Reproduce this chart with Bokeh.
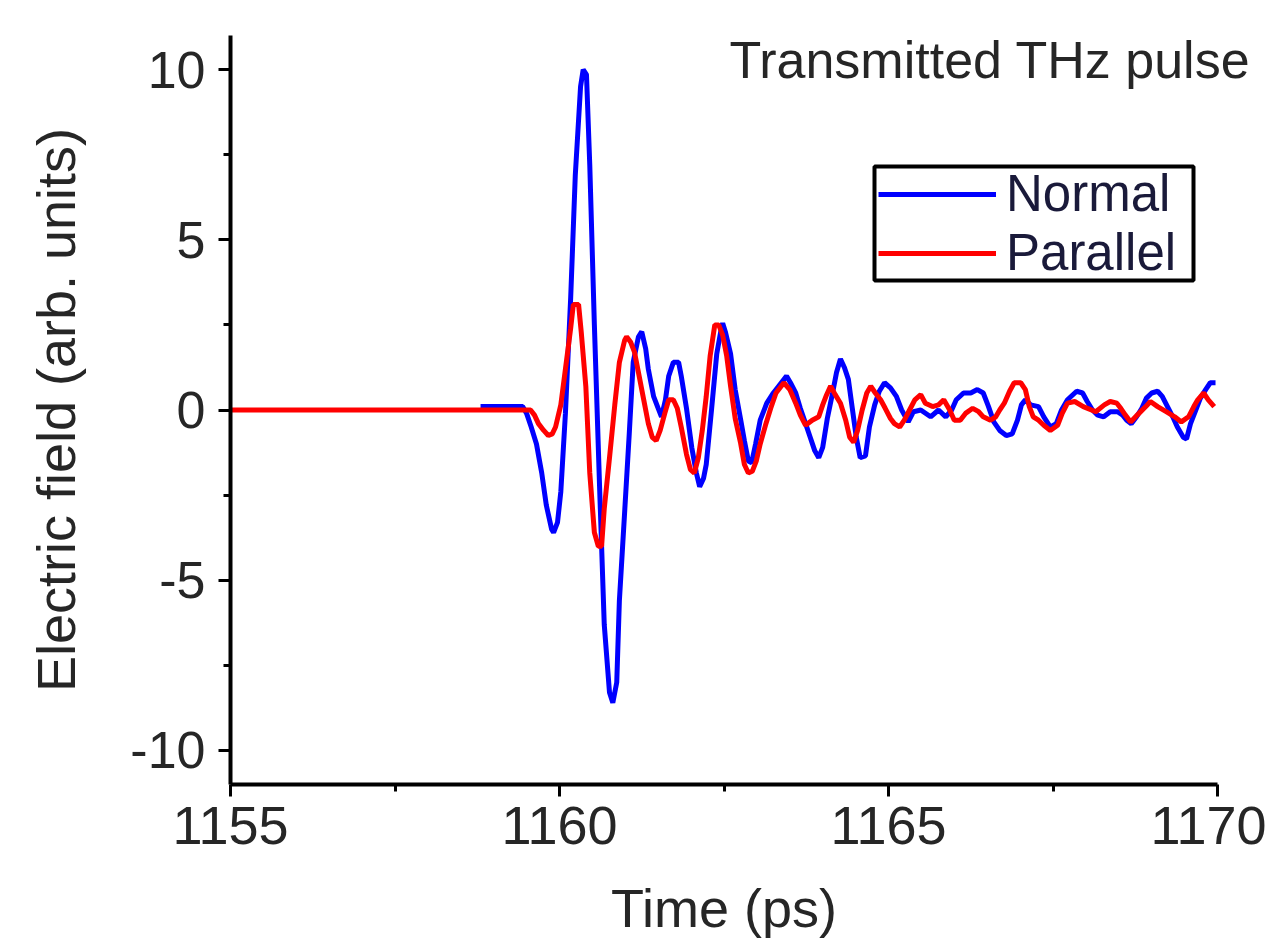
from bokeh.plotting import figure
from bokeh.models import Range1d, FixedTicker, Legend, LegendItem, BoxAnnotation
from bokeh.embed import file_html
from bokeh.resources import INLINE

# ---------------- data ----------------
time_normal = [
    1158.80, 1159.44, 1159.50, 1159.57, 1159.65, 1159.73, 1159.80, 1159.88, 1159.91, 1159.97,
    1160.02, 1160.09, 1160.17, 1160.24, 1160.32, 1160.36, 1160.41, 1160.46, 1160.53, 1160.61,
    1160.68, 1160.76, 1160.81, 1160.87, 1160.91, 1160.99, 1161.06, 1161.12, 1161.20, 1161.25,
    1161.31, 1161.35, 1161.43, 1161.50, 1161.55, 1161.61, 1161.66, 1161.73, 1161.81, 1161.85,
    1161.93, 1162.01, 1162.08, 1162.13, 1162.19, 1162.23, 1162.31, 1162.39, 1162.45, 1162.48,
    1162.52, 1162.60, 1162.67, 1162.75, 1162.81, 1162.87, 1162.92, 1162.98, 1163.05, 1163.15,
    1163.25, 1163.33, 1163.45, 1163.51, 1163.59, 1163.66, 1163.74, 1163.81, 1163.88, 1163.94,
    1164.00, 1164.07, 1164.15, 1164.21, 1164.27, 1164.33, 1164.39, 1164.45, 1164.51, 1164.57,
    1164.65, 1164.71, 1164.79, 1164.86, 1164.94, 1165.03, 1165.12, 1165.20, 1165.30, 1165.38,
    1165.49, 1165.64, 1165.76, 1165.87, 1165.96, 1166.03, 1166.14, 1166.25, 1166.35, 1166.44,
    1166.52, 1166.60, 1166.69, 1166.79, 1166.88, 1166.96, 1167.02, 1167.08, 1167.16, 1167.28,
    1167.36, 1167.46, 1167.55, 1167.63, 1167.72, 1167.86, 1167.95, 1168.02, 1168.10, 1168.18,
    1168.27, 1168.37, 1168.48, 1168.56, 1168.62, 1168.69, 1168.77, 1168.85, 1168.92, 1169.00,
    1169.09, 1169.16, 1169.24, 1169.32, 1169.39, 1169.48, 1169.53, 1169.59, 1169.67, 1169.74,
    1169.82, 1169.89, 1169.97,
]
field_normal = [
    0.1, 0.1, -0.1, -0.5, -1.0, -1.85, -2.8, -3.5, -3.6, -3.3,
    -2.4, -0.1, 3.3, 6.9, 9.5, 10.0, 9.85, 7.2, 2.5, -2.3,
    -6.3, -8.3, -8.6, -8.0, -5.6, -3.0, -0.7, 1.4, 2.15, 2.3,
    1.8, 1.2, 0.4, 0.05, -0.2, 0.3, 1.0, 1.4, 1.4, 1.0,
    0.05, -1.1, -1.85, -2.25, -2.0, -1.6, 0.0, 1.65, 2.3, 2.55,
    2.3, 1.65, 0.6, -0.25, -0.9, -1.5, -1.55, -1.0, -0.3, 0.2,
    0.5, 0.7, 1.0, 0.8, 0.5, 0.05, -0.4, -0.8, -1.2, -1.4,
    -1.1, -0.25, 0.5, 1.1, 1.5, 1.25, 0.9, 0.05, -0.8, -1.4,
    -1.35, -0.5, 0.15, 0.55, 0.8, 0.65, 0.4, 0.0, -0.35, -0.05,
    0.0, -0.2, 0.0, -0.2, 0.0, 0.3, 0.5, 0.5, 0.6, 0.5,
    0.1, -0.35, -0.6, -0.75, -0.7, -0.3, 0.15, 0.3, 0.15, 0.1,
    -0.2, -0.5, -0.4, 0.0, 0.3, 0.55, 0.5, 0.25, 0.0, -0.15,
    -0.2, -0.05, -0.05, -0.15, -0.3, -0.4, -0.2, 0.05, 0.35, 0.5,
    0.55, 0.4, 0.1, -0.2, -0.5, -0.8, -0.85, -0.4, 0.0, 0.35,
    0.6, 0.8, 0.8,
]

time_parallel = [
    1155.00, 1159.56, 1159.62, 1159.68, 1159.76, 1159.83, 1159.89, 1159.94, 1160.02, 1160.09,
    1160.17, 1160.21, 1160.29, 1160.33, 1160.40, 1160.46, 1160.53, 1160.59, 1160.64, 1160.68,
    1160.76, 1160.84, 1160.91, 1160.99, 1161.02, 1161.08, 1161.14, 1161.20, 1161.28, 1161.35,
    1161.41, 1161.47, 1161.53, 1161.60, 1161.66, 1161.73, 1161.79, 1161.85, 1161.93, 1161.99,
    1162.05, 1162.11, 1162.17, 1162.23, 1162.29, 1162.36, 1162.42, 1162.48, 1162.54, 1162.60,
    1162.67, 1162.75, 1162.81, 1162.87, 1162.93, 1162.99, 1163.05, 1163.13, 1163.21, 1163.29,
    1163.41, 1163.50, 1163.59, 1163.66, 1163.74, 1163.84, 1163.94, 1164.00, 1164.06, 1164.12,
    1164.19, 1164.27, 1164.35, 1164.41, 1164.47, 1164.53, 1164.60, 1164.67, 1164.73, 1164.80,
    1164.88, 1164.95, 1165.03, 1165.09, 1165.17, 1165.24, 1165.32, 1165.40, 1165.49, 1165.56,
    1165.67, 1165.76, 1165.84, 1165.93, 1166.00, 1166.09, 1166.17, 1166.28, 1166.37, 1166.44,
    1166.55, 1166.63, 1166.69, 1166.76, 1166.84, 1166.91, 1167.01, 1167.08, 1167.14, 1167.20,
    1167.28, 1167.36, 1167.46, 1167.57, 1167.64, 1167.72, 1167.83, 1167.96, 1168.15, 1168.28,
    1168.37, 1168.47, 1168.53, 1168.60, 1168.68, 1168.78, 1168.91, 1168.98, 1169.09, 1169.22,
    1169.35, 1169.45, 1169.56, 1169.64, 1169.70, 1169.79, 1169.86, 1169.95,
]
field_parallel = [
    0.0, 0.0, -0.15, -0.4, -0.6, -0.75, -0.7, -0.5, 0.15, 1.2,
    2.4, 3.1, 3.1, 2.3, 0.7, -1.85, -3.6, -4.0, -4.0, -2.9,
    -1.4, 0.15, 1.4, 2.05, 2.15, 2.0, 1.7, 1.1, 0.3, -0.4,
    -0.8, -0.9, -0.6, -0.1, 0.3, 0.3, 0.05, -0.5, -1.3, -1.75,
    -1.85, -1.4, -0.6, 0.4, 1.6, 2.5, 2.5, 2.2, 1.6, 0.7,
    -0.25, -0.95, -1.6, -1.85, -1.8, -1.5, -1.0, -0.45, 0.05, 0.5,
    0.8, 0.6, 0.2, -0.15, -0.45, -0.3, -0.2, 0.15, 0.45, 0.7,
    0.45, 0.2, -0.3, -0.8, -0.95, -0.6, 0.0, 0.5, 0.7, 0.5,
    0.3, 0.05, -0.25, -0.4, -0.5, -0.3, 0.0, 0.3, 0.45, 0.2,
    0.1, 0.15, 0.3, 0.0, -0.3, -0.3, -0.1, 0.05, -0.05, -0.2,
    -0.3, -0.2, 0.0, 0.2, 0.55, 0.8, 0.8, 0.6, 0.1, -0.2,
    -0.3, -0.45, -0.6, -0.45, -0.1, 0.2, 0.25, 0.1, -0.05, 0.15,
    0.25, 0.2, 0.05, -0.15, -0.35, -0.15, 0.1, 0.25, 0.1, -0.05,
    -0.2, -0.35, -0.2, 0.1, 0.3, 0.5, 0.3, 0.1,
]

series_names = ["Normal", "Parallel"]
x_ticks = [1155, 1160, 1165, 1170]
y_ticks = [-10, -5, 0, 5, 10]
y_tick_labels = {-10: "-10", -5: "-5", 0: "0", 5: "5", 10: "10"}
heading = "Transmitted THz pulse"

# ---------------- styling ----------------
FONT = "Liberation Sans"
TXT = "#262626"

p = figure(
    width=1266, height=940,
    x_range=Range1d(1155, 1170), y_range=Range1d(-11, 11),
    output_backend="svg", toolbar_location=None,
    min_border_left=230, min_border_right=49,
    min_border_top=35, min_border_bottom=150,
)
p.outline_line_color = None
p.xgrid.visible = False
p.ygrid.visible = False
p.background_fill_color = "white"
p.border_fill_color = "white"

r_normal = p.line(time_normal, field_normal, line_color="#0000ff", line_width=5)
r_parallel = p.line(time_parallel, field_parallel, line_color="#ff0000", line_width=5)

for ax in (p.xaxis[0], p.yaxis[0]):
    ax.axis_line_width = 4
    ax.axis_line_color = "black"
    ax.major_tick_line_width = 3
    ax.minor_tick_line_width = 3
    ax.major_tick_line_color = "black"
    ax.minor_tick_line_color = "black"
    ax.major_tick_in = 0
    ax.major_tick_out = 12
    ax.minor_tick_in = 0
    ax.minor_tick_out = 7
    ax.major_label_text_font = FONT
    ax.major_label_text_color = TXT
    ax.axis_label_text_font = FONT
    ax.axis_label_text_font_size = "54px"
    ax.axis_label_text_font_style = "normal"
    ax.axis_label_text_color = TXT

p.xaxis.major_label_text_font_size = "54px"
p.yaxis.major_label_text_font_size = "52px"
p.xaxis.ticker = FixedTicker(ticks=x_ticks, minor_ticks=[1157.5, 1162.5, 1167.5])
p.yaxis.ticker = FixedTicker(ticks=y_ticks, minor_ticks=[-7.5, -2.5, 2.5, 7.5])
p.yaxis.major_label_overrides = y_tick_labels
p.xaxis.axis_label = "Time (ps)"
p.yaxis.axis_label = "Electric field (arb. units)"
p.xaxis.major_label_standoff = 10
p.yaxis.major_label_standoff = 13
p.xaxis.axis_label_standoff = 31
p.yaxis.axis_label_standoff = 41

# legend frame (screen units relative to the plot frame)
legend_box = BoxAnnotation(
    left=644, right=963, top=618, bottom=504,
    left_units="screen", right_units="screen", top_units="screen", bottom_units="screen",
    fill_color="white", fill_alpha=1.0, line_color="black", line_width=4, line_alpha=1.0,
)
p.add_layout(legend_box)

legend_style = dict(
    border_line_color=None, background_fill_alpha=0.0,
    label_text_font=FONT, label_text_font_size="51px", label_text_color="#1a1a3a",
    glyph_width=118, glyph_height=40, label_standoff=10,
    spacing=0, padding=0, margin=0,
)
p.add_layout(Legend(items=[LegendItem(label=series_names[0], renderers=[r_normal])],
                    location=(648, 561), **legend_style))
p.add_layout(Legend(items=[LegendItem(label=series_names[1], renderers=[r_parallel])],
                    location=(648, 502), **legend_style))

p.title.text = heading
p.title.align = "right"
p.title.text_font = FONT
p.title.text_font_size = "52px"
p.title.text_font_style = "normal"
p.title.text_color = TXT
p.title.standoff = -106
p.title.offset = -33

open("out.html", "w").write(file_html(p, INLINE))
